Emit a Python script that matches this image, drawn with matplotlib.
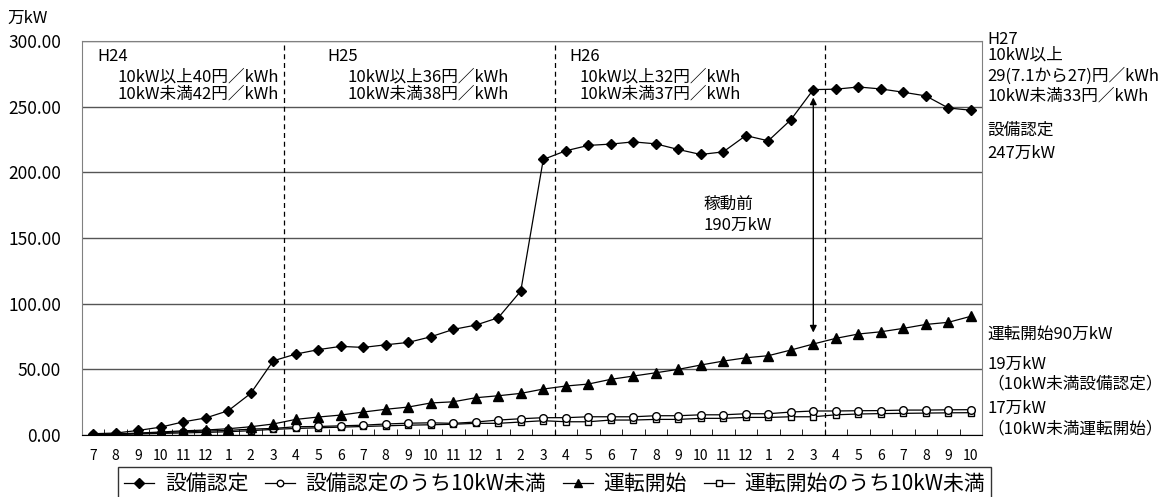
import numpy as np
import matplotlib
matplotlib.use("Agg")
import matplotlib.pyplot as plt

plt.rcParams['font.family'] = ['Noto Sans CJK JP', 'DejaVu Sans']

# months: H24/7 .. H27/10
months = [7, 8, 9, 10, 11, 12] + list(range(1, 13)) + list(range(1, 13)) + list(range(1, 11))

nintei = [1.0, 1.5, 3.5, 6.0, 10.0, 13.0, 18.5, 31.7, 56.5, 61.6, 65.0, 67.5, 66.7, 68.7,
          70.5, 74.8, 80.4, 83.7, 89.3, 109.6, 209.8, 216.4, 220.5, 221.5, 223.2, 221.7,
          217.4, 213.6, 215.6, 228.0, 224.0, 240.0, 263.0, 263.3, 265.0, 263.5, 261.0,
          258.2, 249.0, 247.3]
nintei_small = [0.3, 0.6, 1.2, 1.8, 2.5, 3.0, 3.5, 4.5, 5.0, 6.3, 6.5, 7.0, 7.5, 8.4,
                9.0, 9.3, 8.9, 9.9, 11.4, 12.4, 13.2, 13.2, 13.9, 13.9, 13.9, 14.7,
                14.7, 15.4, 15.4, 16.2, 16.2, 17.5, 18.3, 18.3, 18.5, 18.6, 19.0, 19.0,
                19.2, 19.3]
unten = [0.3, 0.8, 1.5, 2.3, 3.2, 3.8, 4.8, 6.3, 8.4, 11.9, 13.7, 15.2, 17.5, 19.6,
         21.3, 24.4, 25.3, 28.4, 29.9, 31.7, 35.0, 37.3, 38.8, 42.4, 44.9, 47.4, 50.0,
         53.3, 56.3, 58.8, 60.4, 64.7, 69.3, 73.6, 76.9, 78.6, 81.2, 84.2, 85.8, 90.4]
unten_small = [0.2, 0.4, 0.8, 1.2, 1.6, 2.0, 2.5, 3.3, 4.3, 5.0, 5.5, 6.0, 6.5, 7.0,
               7.5, 7.8, 8.2, 8.9, 8.9, 9.9, 10.9, 10.1, 10.1, 11.4, 11.4, 11.9, 11.9,
               12.7, 12.7, 13.4, 13.4, 13.9, 13.9, 15.4, 16.0, 16.3, 16.5, 16.7, 16.9, 17.0]

x = np.arange(len(months))

fig = plt.figure(figsize=(11.69, 4.97), dpi=100)
ax = fig.add_axes([0.0701, 0.1247, 0.7700, 0.7928])

ax.plot(x, nintei, color='black', lw=0.9, marker='D', ms=5.5, mfc='black', label='設備認定', zorder=5)
ax.plot(x, nintei_small, color='black', lw=0.9, marker='o', ms=5.5, mfc='white', label='設備認定のうち10kW未満', zorder=4)
ax.plot(x, unten, color='black', lw=0.9, marker='^', ms=6.5, mfc='black', label='運転開始', zorder=5)
ax.plot(x, unten_small, color='black', lw=0.9, marker='s', ms=5, mfc='white', label='運転開始のうち10kW未満', zorder=3)

ax.set_xlim(-0.5, len(months) - 0.5)
ax.set_ylim(0, 300)
ax.set_yticks(np.arange(0, 301, 50))
ax.set_yticklabels(['%.2f' % v for v in np.arange(0, 301, 50)], fontsize=12.5)
ax.set_xticks(x)
ax.set_xticklabels([str(m) for m in months], fontsize=10)
ax.set_xticks(np.arange(-0.5, len(months), 1), minor=True)
ax.tick_params(axis='x', which='major', length=0, pad=10)
ax.tick_params(axis='x', which='minor', direction='in', length=4, color='black')
ax.tick_params(axis='y', length=0, pad=15)

ax.grid(axis='y', color='#555555', lw=1)
ax.set_axisbelow(True)
for s in ['top', 'right', 'left']:
    ax.spines[s].set_color('#808080')
ax.spines['bottom'].set_color('black')

# fiscal year boundaries
for b in [8.5, 20.5, 32.5]:
    ax.axvline(b, color='black', lw=0.9, ls=(0, (4, 3)), zorder=2)

# annotations
fs = 12
kw = dict(fontsize=fs, va='center', ha='left', clip_on=False)
ax.text(0.17, 288.5, 'H24', **kw)
ax.text(1.1, 272.6, '10kW以上40円／kWh', **kw)
ax.text(1.1, 259.6, '10kW未満42円／kWh', **kw)
ax.text(10.39, 288.5, 'H25', **kw)
ax.text(11.28, 272.6, '10kW以上36円／kWh', **kw)
ax.text(11.28, 259.6, '10kW未満38円／kWh', **kw)
ax.text(21.14, 288.5, 'H26', **kw)
ax.text(21.59, 272.6, '10kW以上32円／kWh', **kw)
ax.text(21.59, 259.6, '10kW未満37円／kWh', **kw)

ax.text(27.14, 175.5, '稼動前', **kw)
ax.text(27.14, 159.9, '190万kW', **kw)
ax.annotate('', xy=(32, 257), xytext=(32, 78),
            arrowprops=dict(arrowstyle='<|-|>', color='black', lw=1, mutation_scale=10,
                            shrinkA=0, shrinkB=0))

rx = 39.72
ax.text(rx, 301.5, 'H27', **kw)
ax.text(rx, 289.3, '10kW以上', **kw)
ax.text(rx, 273.4, '29(7.1から27)円／kWh', **kw)
ax.text(rx, 258.1, '10kW未満33円／kWh', **kw)
ax.text(rx, 232.2, '設備認定', **kw)
ax.text(rx, 214.7, '247万kW', **kw)
ax.text(rx, 76.9, '運転開始90万kW', **kw)
ax.text(rx, 54.1, '19万kW', **kw)
ax.text(rx, 38.8, '（10kW未満設備認定）', **kw)
ax.text(rx, 20.6, '17万kW', **kw)
ax.text(rx, 4.6, '（10kW未満運転開始）', **kw)

fig.text(0.0068, 0.964, '万kW', fontsize=12, va='center')

leg = fig.legend(loc='upper center', bbox_to_anchor=(0.4744, 0.0604), ncol=4,
                 fontsize=15, frameon=True, fancybox=False, edgecolor='black',
                 handlelength=1.45, handletextpad=0.5, columnspacing=0.8,
                 borderpad=0.3, borderaxespad=0, markerscale=0.85)
leg.get_frame().set_linewidth(1)

fig.savefig('out.png', dpi=100)
